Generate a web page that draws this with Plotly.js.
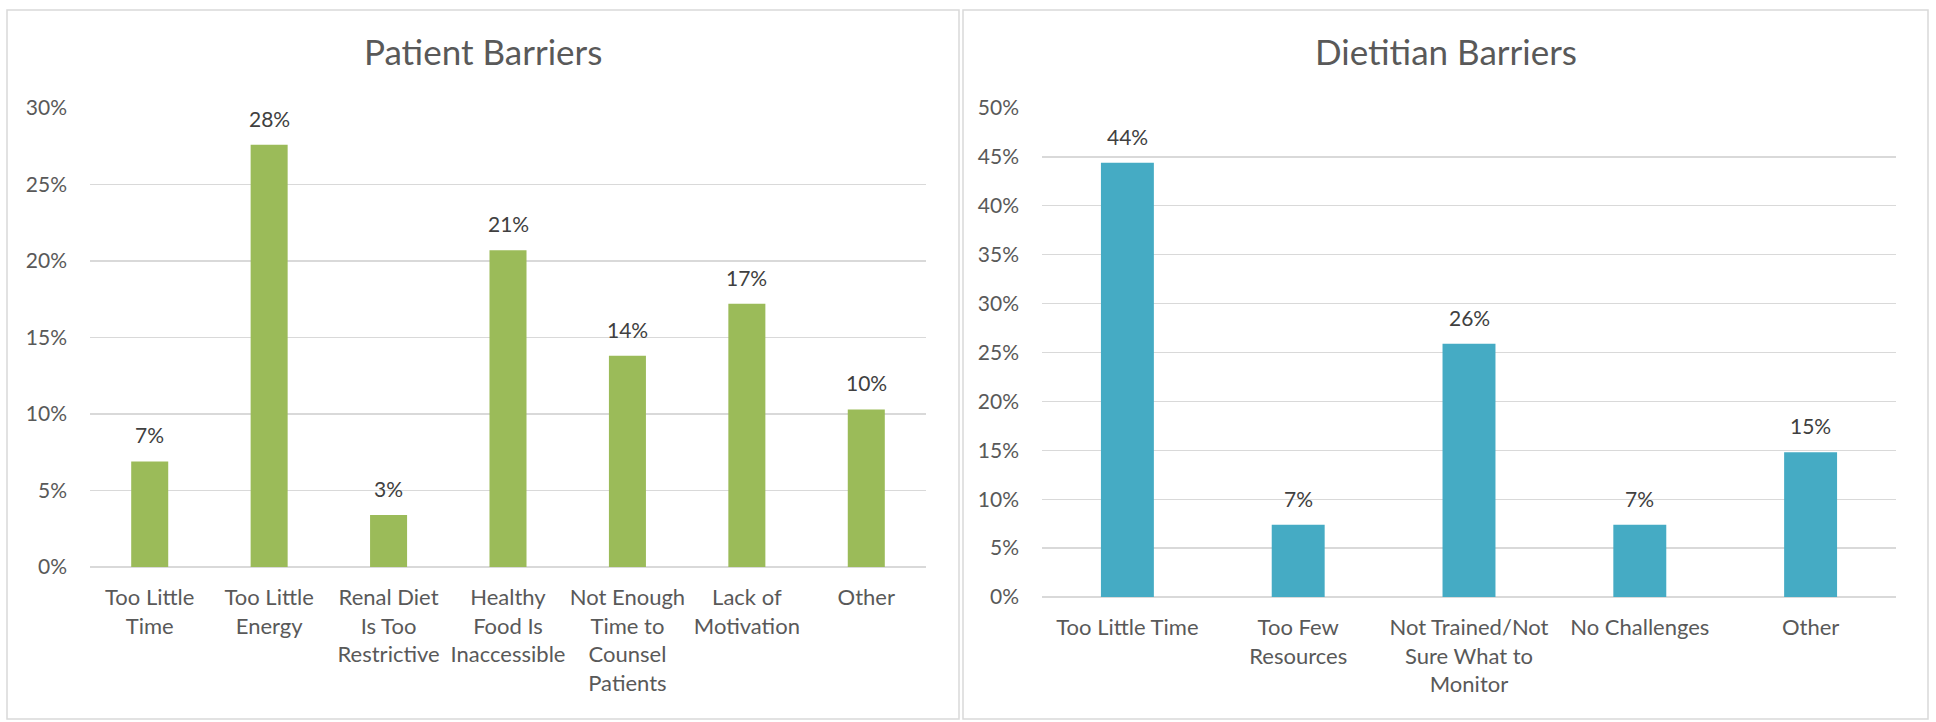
<!DOCTYPE html>
<html><head><meta charset="utf-8">
<script src="https://cdn.plot.ly/plotly-3.0.1.min.js"></script>
<style>html,body{margin:0;padding:0;background:#fff}#chart{width:1936px;height:722px}</style>
</head><body><div id="chart"></div>
<script>
const patientTitle = "Patient Barriers";
const dietitianTitle = "Dietitian Barriers";
const patientCategories = ["Too Little<br>Time", "Too Little<br>Energy", "Renal Diet<br>Is Too<br>Restrictive", "Healthy<br>Food Is<br>Inaccessible", "Not Enough<br>Time to<br>Counsel<br>Patients", "Lack of<br>Motivation", "Other"];
const patientValues = [6.9, 27.6, 3.4, 20.7, 13.8, 17.2, 10.3];
const dietitianCategories = ["Too Little Time", "Too Few<br>Resources", "Not Trained/Not<br>Sure What to<br>Monitor", "No Challenges", "Other"];
const dietitianValues = [44.4, 7.4, 25.9, 7.4, 14.8];

const FONT = "Lato, 'Liberation Sans', Arial, sans-serif";
const W = 1936, H = 722;
const px = v => v / W;
const py = v => 1 - v / H;

const label = v => Math.round(v) + "%";

const traces = [
  {type: "bar", x: patientCategories, y: patientValues, marker: {color: "#9bbb59"}, xaxis: "x", yaxis: "y", hoverinfo: "skip"},
  {type: "bar", x: dietitianCategories, y: dietitianValues, marker: {color: "#45abc4"}, xaxis: "x2", yaxis: "y2", hoverinfo: "skip"}
];

const annotations = [];
patientCategories.forEach((c, i) => annotations.push({
  x: c, y: patientValues[i], xref: "x", yref: "y", text: label(patientValues[i]),
  showarrow: false, yanchor: "bottom", yshift: 12, font: {family: FONT, size: 21, color: "#404040"}
}));
dietitianCategories.forEach((c, i) => annotations.push({
  x: c, y: dietitianValues[i], xref: "x2", yref: "y2", text: label(dietitianValues[i]),
  showarrow: false, yanchor: "bottom", yshift: 12, font: {family: FONT, size: 21, color: "#404040"}
}));
annotations.push({xref: "paper", yref: "paper", x: px(483), y: py(51), text: patientTitle, showarrow: false,
  xanchor: "center", yanchor: "middle", font: {family: FONT, size: 35, color: "#595959"}});
annotations.push({xref: "paper", yref: "paper", x: px(1446), y: py(51), text: dietitianTitle, showarrow: false,
  xanchor: "center", yanchor: "middle", font: {family: FONT, size: 35, color: "#595959"}});

const yax = (dom, range) => ({
  domain: dom, range: range, dtick: 5, ticksuffix: "%", showgrid: true, gridcolor: "#d9d9d9", gridwidth: 1.3,
  zeroline: true, zerolinecolor: "#d9d9d9", zerolinewidth: 1.3, showline: false, ticks: "",
  ticklabelstandoff: 22, tickfont: {family: FONT, size: 21, color: "#595959"}, fixedrange: true
});
const xax = (dom, anchor) => ({
  domain: dom, anchor: anchor, showgrid: false, showline: false, ticks: "", zeroline: false,
  ticklabelstandoff: 15, tickfont: {family: FONT, size: 22, color: "#595959"}, fixedrange: true, tickangle: 0
});

const layout = {
  width: W, height: H, margin: {l: 0, r: 0, t: 0, b: 0}, paper_bgcolor: "#fff", plot_bgcolor: "#fff",
  showlegend: false, bargap: 0.69,
  xaxis: xax([px(90), px(926)], "y"),
  yaxis: yax([py(567), py(108)], [0, 30]),
  xaxis2: xax([px(1042), px(1896)], "y2"),
  yaxis2: yax([py(597), py(108)], [0, 50]),
  annotations: annotations,
  shapes: [
    {type: "rect", xref: "paper", yref: "paper", x0: px(7), x1: px(959), y0: py(719), y1: py(10), line: {color: "#d9d9d9", width: 1.5}},
    {type: "rect", xref: "paper", yref: "paper", x0: px(963), x1: px(1928), y0: py(719), y1: py(10), line: {color: "#d9d9d9", width: 1.5}}
  ]
};
layout.yaxis2.anchor = "x2";
layout.yaxis.anchor = "x";

Plotly.newPlot("chart", traces, layout, {staticPlot: true, displayModeBar: false});
</script></body></html>
